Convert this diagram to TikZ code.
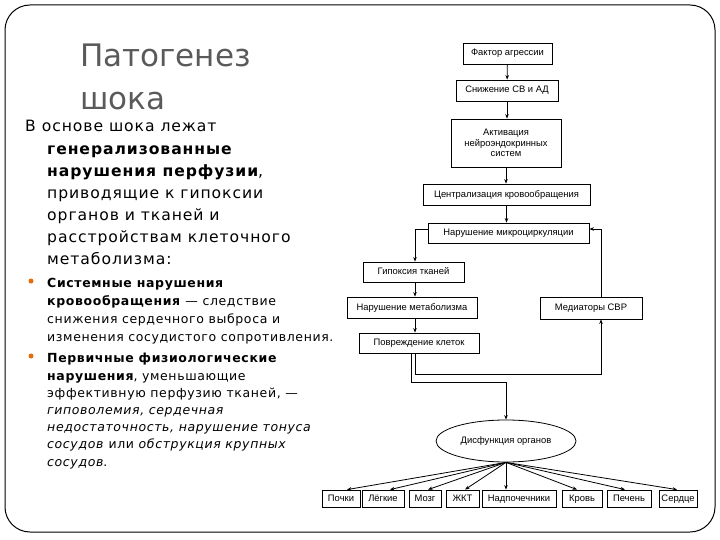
\documentclass[tikz,border=0pt]{standalone}
\usepackage{fontspec}
\setmainfont{DejaVu Sans}
\newfontfamily\titlef{DejaVu Sans}
\newfontfamily\bodyf[LetterSpace=6]{DejaVu Sans}
\newfontfamily\smallf[LetterSpace=5]{DejaVu Sans}
\newfontfamily\diagf{Liberation Sans}
\usetikzlibrary{shapes.geometric,arrows.meta,calc}
\definecolor{titlegray}{RGB}{90,90,90}
\definecolor{bulletorange}{RGB}{228,108,10}
\begin{document}
\begin{tikzpicture}[x=1pt,y=-1pt,
  box/.style={draw,line width=0.8pt,font=\diagf\fontsize{9.4}{10.4}\selectfont,inner sep=0pt,align=center},
  one/.style={text height=6.5pt,text depth=1.5pt},
  arr/.style={line width=0.8pt,-{Stealth[length=4.5pt,width=3.5pt]}},
  ln/.style={anchor=base west,inner sep=0pt,font=\bodyf\fontsize{15.6}{18}\selectfont},
  sm/.style={anchor=base west,inner sep=0pt,font=\smallf\fontsize{12.5}{14}\selectfont},
  dot/.style={circle,fill=bulletorange,inner sep=0pt,minimum size=5pt}]
\useasboundingbox (0,0) rectangle (720,540);
\draw[line width=1pt, rounded corners=25pt] (5,5) rectangle (715,532);

% title
\node[anchor=base west,inner sep=0pt,text=titlegray,font=\titlef\fontsize{31}{36}\selectfont] (ti1) at (80,67) {Патогенез};
\node[anchor=base west,inner sep=0pt,text=titlegray,font=\titlef\fontsize{31}{36}\selectfont] (ti2) at (80,110) {шока};

% body
\node[ln] (b1) at (25,132) {В основе шока лежат};
\node[ln] (b2) at (47,155) {\bfseries генерализованные};
\node[ln] (b3) at (47,177) {\textbf{нарушения перфузии},};
\node[ln] (b4) at (47,199) {приводящие к гипоксии};
\node[ln] (b5) at (47,221) {органов и тканей и};
\node[ln] (b6) at (47,243) {расстройствам клеточного};
\node[ln] (b7) at (47,264) {метаболизма:};

\node[dot] (d1) at (31,281) {};
\node[sm] (s1) at (47,287) {\bfseries Системные нарушения};
\node[sm] (s2) at (47,305) {\textbf{кровообращения} — следствие};
\node[sm] (s3) at (47,323) {снижения сердечного выброса и};
\node[sm] (s4) at (47,341) {изменения сосудистого сопротивления.};
\node[dot] (d2) at (31,356) {};
\node[sm] (s5) at (47,362) {\bfseries Первичные физиологические};
\node[sm] (s6) at (47,380) {\textbf{нарушения}, уменьшающие};
\node[sm] (s7) at (47,397) {эффективную перфузию тканей, —};
\node[sm] (s8) at (47,414) {\itshape гиповолемия, сердечная};
\node[sm] (s9) at (47,431) {\itshape недостаточность, нарушение тонуса};
\node[sm] (s10) at (47,448) {\textit{сосудов} или \textit{обструкция крупных}};
\node[sm] (s11) at (47,466) {\textit{сосудов}.};

% diagram
\node[box,one,minimum width=89pt,minimum height=21pt] (f1) at (507.5,53.5) {Фактор агрессии};
\node[box,one,minimum width=102pt,minimum height=21pt] (f2) at (507,90.5) {Снижение СВ и АД};
\node[box,minimum width=110pt,minimum height=48pt] (f3) at (506,143) {Активация\\нейроэндокринных\\систем};
\node[box,one,minimum width=167pt,minimum height=21pt] (f4) at (506.5,194.5) {Централизация кровообращения};
\node[box,one,minimum width=161pt,minimum height=20pt] (f5) at (508.5,233) {Нарушение микроциркуляции};
\node[box,one,minimum width=101pt,minimum height=20pt] (f6) at (413.5,272) {Гипоксия тканей};
\node[box,one,minimum width=130pt,minimum height=21pt] (f7) at (412,307.5) {Нарушение метаболизма};
\node[box,one,minimum width=120pt,minimum height=20pt] (f8) at (419,343) {Повреждение клеток};
\node[box,one,minimum width=102pt,minimum height=22pt] (f9) at (591,308) {Медиаторы СВР};
\node[box,one,ellipse,minimum width=140pt,minimum height=42pt] (e) at (506,441) {Дисфункция органов};

\node[box,one,minimum width=38pt,minimum height=17pt] (o1) at (341,498.5) {Почки};
\node[box,one,minimum width=42pt,minimum height=17pt] (o2) at (383,498.5) {Лёгкие};
\node[box,one,minimum width=32pt,minimum height=17pt] (o3) at (425,498.5) {Мозг};
\node[box,one,minimum width=33pt,minimum height=17pt] (o4) at (462.5,498.5) {ЖКТ};
\node[box,one,minimum width=74pt,minimum height=17pt] (o5) at (519,498.5) {Надпочечники};
\node[box,one,minimum width=40pt,minimum height=17pt] (o6) at (582,498.5) {Кровь};
\node[box,one,minimum width=44pt,minimum height=17pt] (o7) at (629,498.5) {Печень};
\node[box,one,minimum width=38pt,minimum height=17pt] (o8) at (678,498.5) {Сердце};

\coordinate (c1) at (506,382);

\draw[arr] (f1) -- (f2);
\draw[arr] (f2.south) -- (f2.south |- f3.north);
\draw[arr] (f3.south) -- (f3.south |- f4.north);
\draw[arr] (f4.south) -- (f4.south |- f5.north);
\draw[arr] ([yshift=4pt]f5.west) -| ([xshift=1.5pt]f6.north);
\draw[arr] ([xshift=1.5pt]f6.south) -- ([xshift=1.5pt]f6.south |- f7.north);
\draw[arr] ([xshift=-4pt]f8.north |- f7.south) -- ([xshift=-4pt]f8.north);
\draw[arr] ([xshift=-8pt]f8.south) |- (c1) -- (e.north);
\draw[arr] ([xshift=-4pt]f8.south) -- ++(0,21) -| ([xshift=10pt]f9.south);
\draw[arr] ([xshift=10pt]f9.north) |- ([yshift=4pt]f5.east);

\draw[arr] (e.south) -- ([xshift=6pt]o1.north);
\draw[arr] (e.south) -- ([xshift=7pt]o2.north);
\draw[arr] (e.south) -- ([xshift=3pt]o3.north);
\draw[arr] (e.south) -- ([xshift=2.5pt]o4.north);
\draw[arr] (e.south) -- (e.south |- o5.north);
\draw[arr] (e.south) -- ([xshift=-5pt]o6.north);
\draw[arr] (e.south) -- ([xshift=-4pt]o7.north);
\draw[arr] (e.south) -- ([xshift=-1pt]o8.north);
\end{tikzpicture}
\end{document}
